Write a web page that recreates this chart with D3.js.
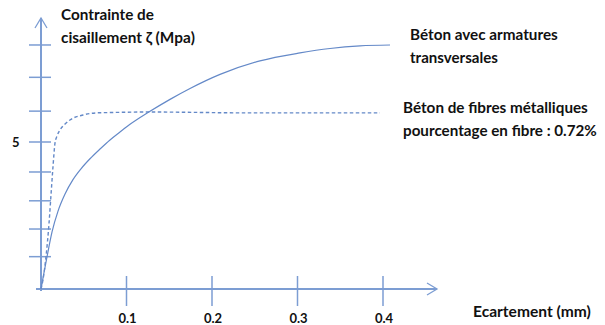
<!DOCTYPE html>
<html><head><meta charset="utf-8">
<script src="https://cdn.jsdelivr.net/npm/d3@7"></script>
<style>body{margin:0;background:#fff}svg text{font-family:Lato,"Open Sans",sans-serif;font-weight:bold;fill:#111}</style>
</head><body><svg id="c" width="605" height="325"></svg>
<script>
// data (x in mm, y in MPa)
const solidX = [0,0.0023,0.0070,0.0129,0.0199,0.0281,0.0374,0.0468,0.0573,0.0690,0.0807,0.0924,0.1041,0.1251,0.1509,0.1743,0.2094,0.2561,0.3029,0.3380,0.3731,0.4082];
const solidY = [0,0.37,1.09,1.94,2.65,3.23,3.72,4.09,4.43,4.76,5.07,5.34,5.60,6.00,6.45,6.82,7.30,7.76,8.03,8.18,8.27,8.30];
const dashX = [0,0.0023,0.0058,0.0094,0.0117,0.0140,0.0164,0.0187,0.0222,0.0281,0.0339,0.0491,0.0643,0.0772,0.1275,0.2444,0.3965];
const dashY = [0,0.31,1.09,2.24,3.20,4.15,4.97,5.20,5.41,5.61,5.75,5.92,5.99,6.00,6.02,5.99,5.99];
const xTicks = [0.1,0.2,0.3,0.4];
const xTickLabels = ["0.1","0.2","0.3","0.4"];
const yTicks = [1.1,2.04,3,3.98,5,6.05,7.2,8.3];
const yLabeled = [5];
const yTitle = ["Contrainte de","cisaillement ζ (Mpa)"];
const xTitle = "Ecartement (mm)";
const solidLabel = ["Béton avec armatures","transversales"];
const dashLabel = ["Béton de fibres métalliques","pourcentage en fibre : 0.72%"];

const svg = d3.select("#c");
const x = d3.scaleLinear().domain([0,0.4]).range([41,383]);
const y = d3.scaleLinear().domain([0,5]).range([289,142]);
const axisCol = "#7c9dd3", lineCol = "#6489c8";

// axes lines
svg.append("line").attr("x1",x(0)).attr("x2",x(0)).attr("y1",y(0)+2).attr("y2",18)
  .attr("stroke",axisCol).attr("stroke-width",2);
svg.append("line").attr("x1",36).attr("x2",437).attr("y1",y(0)).attr("y2",y(0))
  .attr("stroke",axisCol).attr("stroke-width",1.8);
// arrowheads
svg.append("path").attr("d",`M${x(0)-6},28 L${x(0)},18 L${x(0)+6},28`).attr("fill","none").attr("stroke",axisCol).attr("stroke-width",1.3);
svg.append("path").attr("d",`M427,283 L437,${y(0)} L427,295`).attr("fill","none").attr("stroke",axisCol).attr("stroke-width",1.3);

// y ticks
svg.selectAll(".yt").data(yTicks).join("line").attr("x1",29).attr("x2",51)
  .attr("y1",d=>y(d)).attr("y2",d=>y(d)).attr("stroke",axisCol).attr("stroke-width",1.5);
svg.selectAll(".yl").data(yLabeled).join("text").attr("x",12).attr("y",d=>y(d)).attr("dy","0.35em")
  .attr("font-size",13).text(d=>d);
// x ticks
svg.selectAll(".xt").data(xTicks).join("line").attr("x1",d=>x(d)).attr("x2",d=>x(d))
  .attr("y1",276).attr("y2",306).attr("stroke",axisCol).attr("stroke-width",1.5);
svg.selectAll(".xl").data(xTicks).join("text").attr("x",d=>x(d)+1).attr("y",318).attr("dy","0.35em")
  .attr("text-anchor","middle").attr("font-size",13).text((d,i)=>xTickLabels[i]);

// curves
const line = d3.line().x(d=>x(d[0])).y(d=>y(d[1])).curve(d3.curveMonotoneX);
svg.append("path").datum(solidX.map((v,i)=>[v,solidY[i]])).attr("d",line)
  .attr("fill","none").attr("stroke",lineCol).attr("stroke-width",1.2);
svg.append("path").datum(dashX.map((v,i)=>[v,dashY[i]])).attr("d",line)
  .attr("fill","none").attr("stroke",lineCol).attr("stroke-width",1.4).attr("stroke-dasharray","3.5,2.5");

// texts with target widths
function fitText(t,xx,cy,w){
  const el = svg.append("text").attr("x",xx).attr("y",cy).attr("dy","0.35em").attr("font-size",13).text(t);
  const L = el.node().getComputedTextLength();
  el.attr("font-size",13*w/L);
}
fitText(yTitle[0],61,15,93);
fitText(yTitle[1],61,38,134);
fitText(solidLabel[0],410,35,148);
fitText(solidLabel[1],410,58,88);
fitText(dashLabel[0],403,108,185);
fitText(dashLabel[1],403,131,194);
fitText(xTitle,473,312,118);
</script></body></html>
